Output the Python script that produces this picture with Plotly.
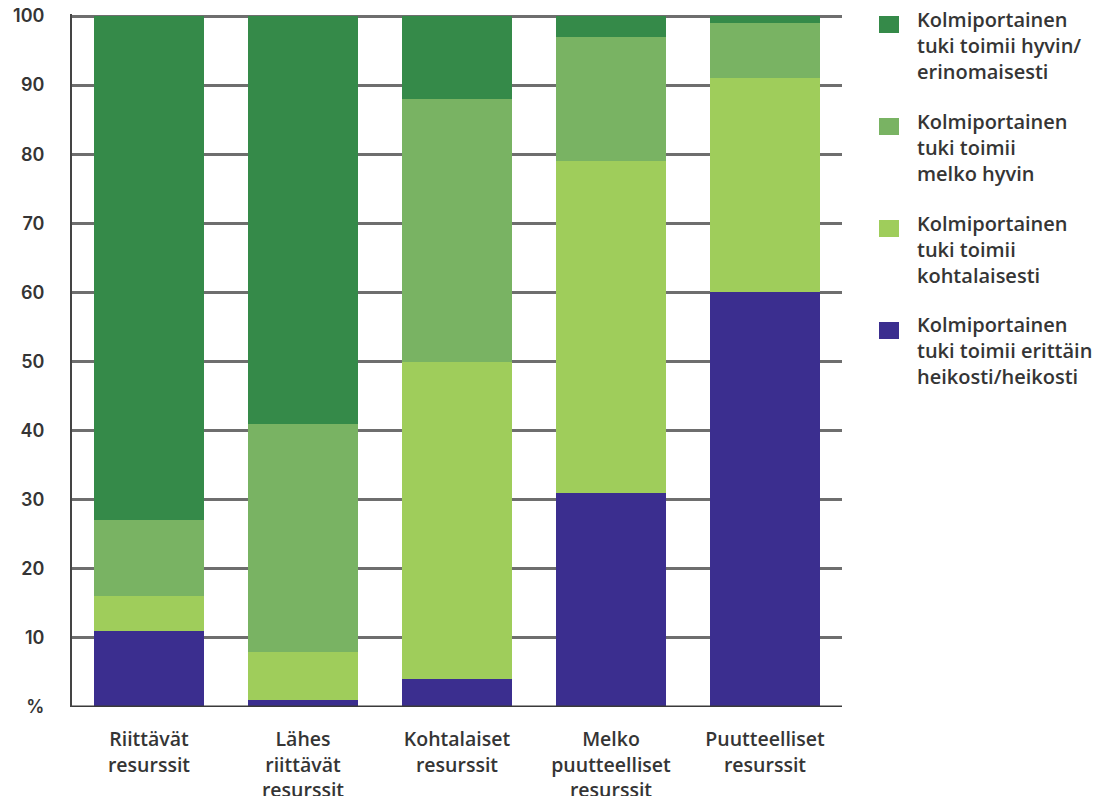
import plotly.graph_objects as go

categories = ["Riittävät<br>resurssit", "Lähes<br>riittävät<br>resurssit", "Kohtalaiset<br>resurssit",
              "Melko<br>puutteelliset<br>resurssit", "Puutteelliset<br>resurssit"]
series_names = [
    "Kolmiportainen<br>tuki toimii erittäin<br>heikosti/heikosti",
    "Kolmiportainen<br>tuki toimii<br>kohtalaisesti",
    "Kolmiportainen<br>tuki toimii<br>melko hyvin",
    "Kolmiportainen<br>tuki toimii hyvin/<br>erinomaisesti",
]
heikosti = [11, 1, 4, 31, 60]
kohtalaisesti = [5, 7, 46, 48, 31]
melko_hyvin = [11, 33, 38, 18, 8]
hyvin = [73, 59, 12, 3, 1]
colors = ["#3b2e8f", "#9fcd5b", "#79b363", "#358a49"]
ytick_vals = [0, 10, 20, 30, 40, 50, 60, 70, 80, 90, 100]
ytick_text = ["%", "10", "20", "30", "40", "50", "60", "70", "80", "90", "100"]

FONT = "Open Sans"
NUMFONT = "Inter"
TXT = "#353535"

PL, PT, PW, PH = 72, 14, 770, 693  # plot area on screen
W, H = 1098, 796

fig = go.Figure()
for name, vals, col in zip(series_names, [heikosti, kohtalaisesti, melko_hyvin, hyvin], colors):
    fig.add_trace(go.Bar(x=list(range(len(categories))), y=vals, name=name,
                         marker=dict(color=col, line=dict(width=0)), showlegend=False))

fig.update_layout(
    barmode="stack", bargap=0.28,
    width=W, height=H,
    margin=dict(l=PL, r=W - PL - PW, t=PT, b=H - PT - PH, pad=0),
    paper_bgcolor="white", plot_bgcolor="white",
    font=dict(family=FONT, color=TXT, size=15),
    xaxis=dict(range=[-0.5, 4.5], tickvals=list(range(len(categories))), ticktext=categories,
               showgrid=False, zeroline=False, showline=False, automargin=False,
               ticks="outside", ticklen=15, tickcolor="rgba(0,0,0,0)",
               tickfont=dict(family=FONT, size=19.5, color=TXT, weight=600)),
    yaxis=dict(range=[0, 100.3], tickvals=ytick_vals, ticktext=ytick_text,
               showgrid=True, gridcolor="#6e6e6e", gridwidth=3, automargin=False,
               zeroline=False, showline=True, linecolor="#444444", linewidth=2,
               ticks="outside", ticklen=22, tickcolor="rgba(0,0,0,0)",
               tickfont=dict(family=NUMFONT, size=18, color=TXT, weight=600)),
)
# baseline
fig.add_shape(type="line", xref="paper", yref="y", x0=0, x1=1, y0=0, y1=0,
              line=dict(color="#3a3a3a", width=3))

def px_x(x):
    return (x - PL) / PW

def px_y(y):
    return 1 - (y - PT) / PH

# custom legend (top to bottom: hyvin, melko hyvin, kohtalaisesti, heikosti)
leg_order = [3, 2, 1, 0]
for i, idx in enumerate(leg_order):
    ytop = 16 + i * 102
    fig.add_shape(type="rect", xref="paper", yref="paper",
                  x0=px_x(879), x1=px_x(899), y0=px_y(ytop), y1=px_y(ytop + 17),
                  fillcolor=colors[idx], line=dict(width=0))
    fig.add_annotation(xref="paper", yref="paper", x=px_x(915), y=px_y(ytop + 29),
                       xanchor="left", yanchor="middle", align="left", showarrow=False,
                       text=series_names[idx],
                       font=dict(family=FONT, size=20, color=TXT, weight=600))

fig.write_html("out.html", config={"displayModeBar": False},
               post_script="document.body.style.margin='0px';")
